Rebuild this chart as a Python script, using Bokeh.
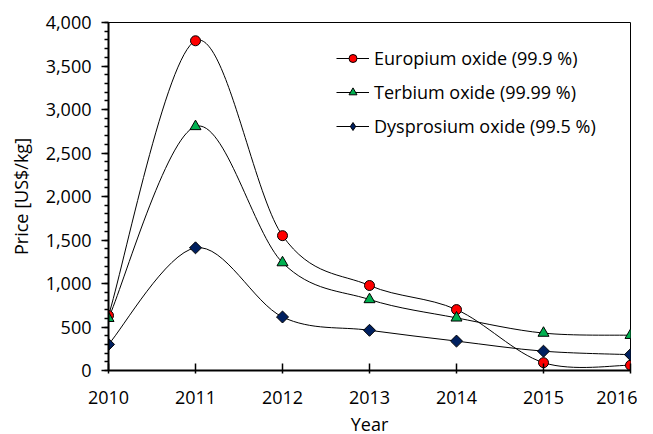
import numpy as np
from bokeh.plotting import figure
from bokeh.models import Range1d, NumeralTickFormatter, FixedTicker, Legend, LegendItem
from bokeh.embed import file_html
from bokeh.resources import INLINE

years = [2010, 2011, 2012, 2013, 2014, 2015, 2016]
europium = [632, 3790, 1550, 977, 700, 90, 60]
terbium = [600, 2805, 1240, 816, 605, 430, 405]
dysprosium = [300, 1410, 615, 462, 338, 222, 182]
labels = ["Europium oxide (99.9 %)", "Terbium oxide (99.99 %)", "Dysprosium oxide (99.5 %)"]
colors = ["#FF0000", "#00B050", "#002060"]
markers = ["circle", "triangle", "square"]
legend_markers = ["circle", "triangle", "diamond"]
sizes = [10, 11, 8.5]
legend_sizes = [10, 11, 11]
angles = [0, 0, np.pi / 4]

FONT = "Open Sans"

p = figure(frame_width=522, frame_height=348, min_border_left=108, min_border_top=22,
           min_border_right=7, min_border_bottom=62,
           output_backend="svg", toolbar_location=None,
           x_range=Range1d(2010, 2016), y_range=Range1d(0, 4000))
p.background_fill_color = "white"
p.border_fill_color = "white"
p.outline_line_color = "black"
p.outline_line_width = 1
p.xgrid.visible = False
p.ygrid.visible = False

p.xaxis.ticker = FixedTicker(ticks=years)
p.yaxis.ticker = FixedTicker(ticks=list(range(0, 4001, 500)), minor_ticks=list(range(0, 4001, 100)))
p.yaxis.formatter = NumeralTickFormatter(format="0,0")
for ax in (p.xaxis[0], p.yaxis[0]):
    ax.axis_line_width = 2
    ax.axis_line_color = "black"
    ax.major_tick_line_color = "black"
    ax.major_tick_line_width = 1.5
    ax.major_label_text_font = FONT
    ax.major_label_text_font_size = "18px"
    ax.major_label_text_color = "black"
    ax.axis_label_text_font = FONT
    ax.axis_label_text_font_size = "18px"
    ax.axis_label_text_font_style = "normal"
    ax.axis_label_text_color = "black"
p.xaxis.major_tick_in = 7
p.xaxis.major_tick_out = 3
p.xaxis.minor_tick_line_color = None
p.xaxis.major_label_standoff = 17
p.xaxis.axis_label = "Year"
p.xaxis.axis_label_standoff = 5
p.yaxis.major_tick_in = 0
p.yaxis.major_tick_out = 7
p.yaxis.minor_tick_in = 0
p.yaxis.minor_tick_out = 4
p.yaxis.minor_tick_line_color = "black"
p.yaxis.minor_tick_line_width = 1.5
p.yaxis.major_label_standoff = 10
p.yaxis.axis_label = "Price [US$/kg]"
p.yaxis.axis_label_standoff = 10


def smooth_segments(xs, ys):
    xs = np.asarray(xs, float)
    ys = np.asarray(ys, float)
    n = len(xs)
    x0, y0, x1, y1, cx0, cy0, cx1, cy1 = ([] for _ in range(8))
    for i in range(n - 1):
        pm = i - 1 if i > 0 else i
        pp = i + 2 if i + 2 < n else i + 1
        x0.append(xs[i]); y0.append(ys[i])
        x1.append(xs[i + 1]); y1.append(ys[i + 1])
        cx0.append(xs[i] + (xs[i + 1] - xs[pm]) / 6)
        cy0.append(ys[i] + (ys[i + 1] - ys[pm]) / 6)
        cx1.append(xs[i + 1] - (xs[pp] - xs[i]) / 6)
        cy1.append(ys[i + 1] - (ys[pp] - ys[i]) / 6)
    return dict(x0=x0, y0=y0, x1=x1, y1=y1, cx0=cx0, cy0=cy0, cx1=cx1, cy1=cy1)


items = []
line_rs = []
series = [europium, terbium, dysprosium]
for vals in series:
    line_rs.append(p.bezier(source=smooth_segments(years, vals), x0="x0", y0="y0", x1="x1", y1="y1",
                            cx0="cx0", cy0="cy0", cx1="cx1", cy1="cy1",
                            line_color="black", line_width=1))
for vals, lab, col, mk, lmk, sz, lsz, ang, lr in zip(series, labels, colors, markers, legend_markers,
                                                      sizes, legend_sizes, angles, line_rs):
    p.scatter(years, vals, marker=mk, size=sz, angle=ang, fill_color=col,
              line_color="black", line_width=1)
    # legend-only marker renderer: a single NaN point, so nothing is drawn in the plot
    lg = p.scatter(x=[years[0]], y=[float("nan")], marker=lmk, size=lsz, fill_color=col,
                   line_color="black", line_width=1)
    items.append(LegendItem(label=lab, renderers=[lr, lg]))

legend = Legend(items=items, location=(228, 232), border_line_alpha=0, background_fill_alpha=0,
                padding=0, margin=0, spacing=10, glyph_width=33, glyph_height=20, label_height=20,
                label_standoff=5, label_text_font=FONT, label_text_font_size="18px",
                label_text_color="black")
p.add_layout(legend, "center")

open("out.html", "w").write(file_html(p, INLINE))
